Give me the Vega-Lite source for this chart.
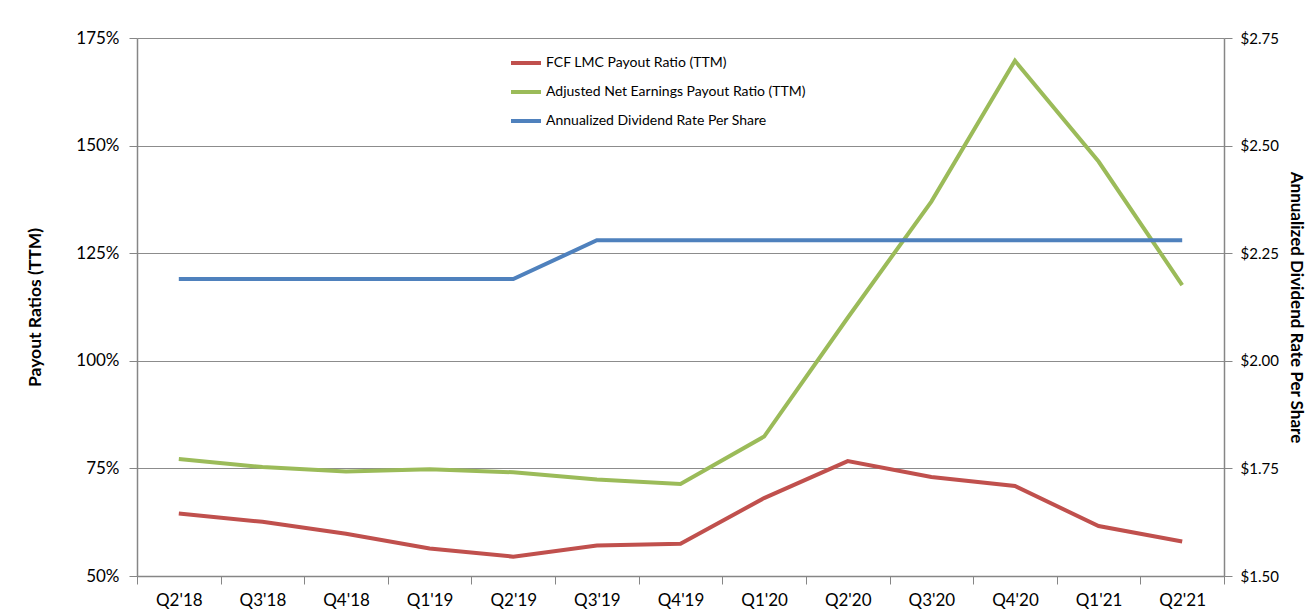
{
  "$schema": "https://vega.github.io/schema/vega-lite/v6.json",
  "width": 1087,
  "height": 538,
  "autosize": {"type": "none"},
  "padding": {"left": 137, "top": 38, "right": 86, "bottom": 38},
  "background": "white",
  "config": {
    "view": {"stroke": null},
    "font": "Lato",
    "axis": {"domainColor": "#868686", "tickColor": "#868686", "gridColor": "#8c8c8c", "labelColor": "#000000", "titleColor": "#000000", "labelFont": "Lato", "titleFont": "Lato"}
  },
  "data": {
    "values": [
      {"q": "Q2'18", "series": "FCF LMC Payout Ratio (TTM)", "value": 64.5},
      {"q": "Q3'18", "series": "FCF LMC Payout Ratio (TTM)", "value": 62.6},
      {"q": "Q4'18", "series": "FCF LMC Payout Ratio (TTM)", "value": 59.8},
      {"q": "Q1'19", "series": "FCF LMC Payout Ratio (TTM)", "value": 56.4},
      {"q": "Q2'19", "series": "FCF LMC Payout Ratio (TTM)", "value": 54.5},
      {"q": "Q3'19", "series": "FCF LMC Payout Ratio (TTM)", "value": 57.1},
      {"q": "Q4'19", "series": "FCF LMC Payout Ratio (TTM)", "value": 57.5},
      {"q": "Q1'20", "series": "FCF LMC Payout Ratio (TTM)", "value": 68.1},
      {"q": "Q2'20", "series": "FCF LMC Payout Ratio (TTM)", "value": 76.7},
      {"q": "Q3'20", "series": "FCF LMC Payout Ratio (TTM)", "value": 73.0},
      {"q": "Q4'20", "series": "FCF LMC Payout Ratio (TTM)", "value": 70.9},
      {"q": "Q1'21", "series": "FCF LMC Payout Ratio (TTM)", "value": 61.6},
      {"q": "Q2'21", "series": "FCF LMC Payout Ratio (TTM)", "value": 58.0},
      {"q": "Q2'18", "series": "Adjusted Net Earnings Payout Ratio (TTM)", "value": 77.2},
      {"q": "Q3'18", "series": "Adjusted Net Earnings Payout Ratio (TTM)", "value": 75.3},
      {"q": "Q4'18", "series": "Adjusted Net Earnings Payout Ratio (TTM)", "value": 74.3},
      {"q": "Q1'19", "series": "Adjusted Net Earnings Payout Ratio (TTM)", "value": 74.8},
      {"q": "Q2'19", "series": "Adjusted Net Earnings Payout Ratio (TTM)", "value": 74.1},
      {"q": "Q3'19", "series": "Adjusted Net Earnings Payout Ratio (TTM)", "value": 72.4},
      {"q": "Q4'19", "series": "Adjusted Net Earnings Payout Ratio (TTM)", "value": 71.4},
      {"q": "Q1'20", "series": "Adjusted Net Earnings Payout Ratio (TTM)", "value": 82.4},
      {"q": "Q2'20", "series": "Adjusted Net Earnings Payout Ratio (TTM)", "value": 110.0},
      {"q": "Q3'20", "series": "Adjusted Net Earnings Payout Ratio (TTM)", "value": 137.0},
      {"q": "Q4'20", "series": "Adjusted Net Earnings Payout Ratio (TTM)", "value": 169.7},
      {"q": "Q1'21", "series": "Adjusted Net Earnings Payout Ratio (TTM)", "value": 146.3},
      {"q": "Q2'21", "series": "Adjusted Net Earnings Payout Ratio (TTM)", "value": 117.6},
      {"q": "Q2'18", "series": "Annualized Dividend Rate Per Share", "value": 2.19},
      {"q": "Q3'18", "series": "Annualized Dividend Rate Per Share", "value": 2.19},
      {"q": "Q4'18", "series": "Annualized Dividend Rate Per Share", "value": 2.19},
      {"q": "Q1'19", "series": "Annualized Dividend Rate Per Share", "value": 2.19},
      {"q": "Q2'19", "series": "Annualized Dividend Rate Per Share", "value": 2.19},
      {"q": "Q3'19", "series": "Annualized Dividend Rate Per Share", "value": 2.28},
      {"q": "Q4'19", "series": "Annualized Dividend Rate Per Share", "value": 2.28},
      {"q": "Q1'20", "series": "Annualized Dividend Rate Per Share", "value": 2.28},
      {"q": "Q2'20", "series": "Annualized Dividend Rate Per Share", "value": 2.28},
      {"q": "Q3'20", "series": "Annualized Dividend Rate Per Share", "value": 2.28},
      {"q": "Q4'20", "series": "Annualized Dividend Rate Per Share", "value": 2.28},
      {"q": "Q1'21", "series": "Annualized Dividend Rate Per Share", "value": 2.28},
      {"q": "Q2'21", "series": "Annualized Dividend Rate Per Share", "value": 2.28}
    ]
  },
  "encoding": {
    "x": {
      "field": "q",
      "type": "ordinal",
      "sort": null,
      "bandPosition": 0.5,
      "scale": {"type": "band", "paddingInner": 0, "paddingOuter": 0},
      "axis": {"title": null, "labelAngle": 0, "tickBand": "extent", "tickSize": 8, "labelPadding": 8, "labelFontSize": 17, "grid": false, "domainWidth": 1.5}
    },
    "color": {
      "field": "series",
      "type": "nominal",
      "scale": {
        "domain": ["FCF LMC Payout Ratio (TTM)", "Adjusted Net Earnings Payout Ratio (TTM)", "Annualized Dividend Rate Per Share"],
        "range": ["#C0504D", "#9BBB59", "#4F81BD"]
      },
      "legend": {
        "title": null,
        "orient": "none",
        "legendX": 372,
        "legendY": 8,
        "symbolType": "stroke",
        "symbolStrokeWidth": 4,
        "symbolSize": 900,
        "labelFontSize": 14,
        "labelFont": "Lato",
        "labelColor": "#000000",
        "labelOffset": 3,
        "rowPadding": 4,
        "labelLimit": 400
      }
    }
  },
  "layer": [
    {
      "transform": [{"filter": "datum.series != 'Annualized Dividend Rate Per Share'"}],
      "mark": {"type": "line", "strokeWidth": 4},
      "encoding": {
        "y": {
          "field": "value",
          "type": "quantitative",
          "scale": {"domain": [50, 175], "nice": false, "zero": false},
          "axis": {"title": "Payout Ratios (TTM)", "values": [50, 75, 100, 125, 150, 175], "labelExpr": "datum.value + '%'", "tickSize": 8, "labelPadding": 10, "labelFontSize": 17, "titleFontSize": 17.5, "titleFontWeight": "bold", "titlePadding": 31, "grid": true, "domainWidth": 1.5}
        }
      }
    },
    {
      "transform": [{"filter": "datum.series == 'Annualized Dividend Rate Per Share'"}],
      "mark": {"type": "line", "strokeWidth": 4},
      "encoding": {
        "y": {
          "field": "value",
          "type": "quantitative",
          "scale": {"domain": [1.5, 2.75], "nice": false, "zero": false},
          "axis": {"orient": "right", "title": "Annualized Dividend Rate Per Share", "values": [1.5, 1.75, 2.0, 2.25, 2.5, 2.75], "format": "$.2f", "tickSize": 8, "labelPadding": 8, "labelFontSize": 15, "titleFontSize": 17, "titleFontWeight": "bold", "titlePadding": 8, "grid": false, "domainWidth": 1.5}
        }
      }
    }
  ],
  "resolve": {"scale": {"y": "independent"}}
}
